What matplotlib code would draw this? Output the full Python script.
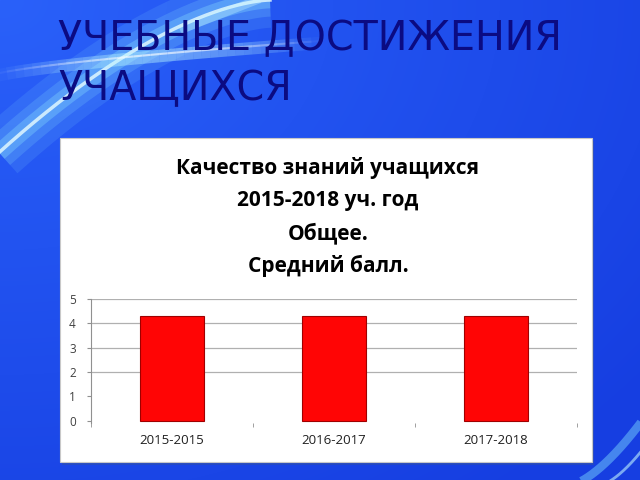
import matplotlib
matplotlib.use("Agg")
import matplotlib.pyplot as plt
import numpy as np
from matplotlib.patches import Rectangle

# --- Data ---------------------------------------------------------------------
categories = ["2015-2015", "2016-2017", "2017-2018"]
avg_score = [4.3, 4.3, 4.3]
y_ticks = [0, 1, 2, 3, 4, 5]
chart_title = ["Качество знаний учащихся", "2015-2018 уч. год", "Общее.", "Средний балл."]
slide_title = ["УЧЕБНЫЕ ДОСТИЖЕНИЯ", "УЧАЩИХСЯ"]

FONT = ["Open Sans", "DejaVu Sans"]

fig = plt.figure(figsize=(6.4, 4.8), dpi=100)

# --- Slide background -------------------------------------------------------
bg = fig.add_axes([0, 0, 1, 1])
bg.set_xlim(0, 640)
bg.set_ylim(480, 0)
bg.axis("off")
yy, xx = np.mgrid[0:480, 0:640]
t = np.clip(1 - np.hypot(xx / 640, yy / 480) / 1.3, 0, 1)
img = np.zeros((480, 640, 3))
img[..., 0] = (22 + 20 * t) / 255
img[..., 1] = (62 + 35 * t) / 255
img[..., 2] = (225 + 25 * t) / 255
bg.imshow(img, extent=[0, 640, 480, 0], aspect="auto", zorder=0)

# light swirls in the top-left corner
s = np.linspace(0, 1, 200)
arc_x = -20 + 290 * s
arc_y = 170 * (1 - s) ** 1.6
for lw, a in [(40, 0.12), (24, 0.18), (12, 0.3)]:
    bg.plot(arc_x, arc_y, color="#8fe8ff", lw=lw, alpha=a, solid_capstyle="butt", zorder=1)
bg.plot(arc_x, arc_y, color="#e8fdff", lw=2.5, alpha=0.8, zorder=1)
fade = np.linspace(0, 1, 40)
for i in range(len(fade) - 1):
    xs = -10 + 330 * fade[i:i + 2]
    ys = 78 - 35 * fade[i:i + 2] ** 0.7
    a = 0.45 * np.sin(np.pi * fade[i])
    bg.plot(xs, ys, color="#b8f4ff", lw=9, alpha=a, solid_capstyle="butt", zorder=1)
    bg.plot(xs, ys - 2, color="#ffffff", lw=1.5, alpha=a * 1.4, solid_capstyle="butt", zorder=1)
bg.plot(180 + 90 * s, 30 - 35 * s, color="#c8f8ff", lw=6, alpha=0.35,
        solid_capstyle="butt", zorder=1)
# bottom-right corner streaks
bg.plot(570 + 80 * s, 485 - 75 * s ** 1.5, color="#7fe0ff", lw=6, alpha=0.45,
        solid_capstyle="butt", zorder=1)
bg.plot(600 + 50 * s, 485 - 45 * s ** 1.5, color="#bff4ff", lw=2, alpha=0.6,
        solid_capstyle="butt", zorder=1)

for i, line in enumerate(slide_title):
    bg.text(58, 50 + 50 * i, line, fontsize=28.5, color="#0b0b82",
            family="DejaVu Sans", va="baseline", ha="left", zorder=3)

# white chart frame
bg.add_patch(Rectangle((62, 141), 532, 324, facecolor="#3050a0", alpha=0.5, zorder=2))
bg.add_patch(Rectangle((60, 138), 532, 324, facecolor="white", edgecolor="#c8c8c8",
                       lw=0.8, zorder=2))

for i, line in enumerate(chart_title):
    bg.text(328, 168 + 32.5 * i, line, fontsize=15, fontweight="bold", family=FONT,
            ha="center", va="center", color="black", zorder=3)

# --- Bar chart ----------------------------------------------------------------
ax = fig.add_axes([91 / 640, (480 - 423) / 480, 486 / 640, 124 / 480])
ax.set_facecolor("none")
x = np.arange(len(categories))
ax.bar(x, avg_score, width=0.4, color="#ff0505", edgecolor="#a00000", lw=0.8, zorder=3)
ax.set_xlim(-0.5, len(categories) - 0.5)
ax.set_yticks(y_ticks)
ax.set_yticklabels([str(v) for v in y_ticks], fontsize=8.5, family=FONT, color="#404040")
for v in y_ticks[2:]:
    ax.axhline(v, color="#b0b0b0", lw=0.9, zorder=1)
ax.set_xticks(x)
ax.set_xticklabels(categories, fontsize=9.5, family=FONT, color="#202020")
ax.set_xticks(np.arange(len(categories) + 1) - 0.5, minor=True)
ax.tick_params(axis="x", which="major", length=0, pad=8)
ax.tick_params(axis="x", which="minor", length=3, color="#909090", direction="out")
ax.tick_params(axis="y", length=3, color="#909090", pad=8)
for side in ["top", "right", "bottom"]:
    ax.spines[side].set_visible(False)
ax.spines["left"].set_color("#909090")
ax.spines["left"].set_bounds(-0.1, 5)
ax.set_ylim(-0.1, 5)

fig.savefig("out.png", dpi=100)
